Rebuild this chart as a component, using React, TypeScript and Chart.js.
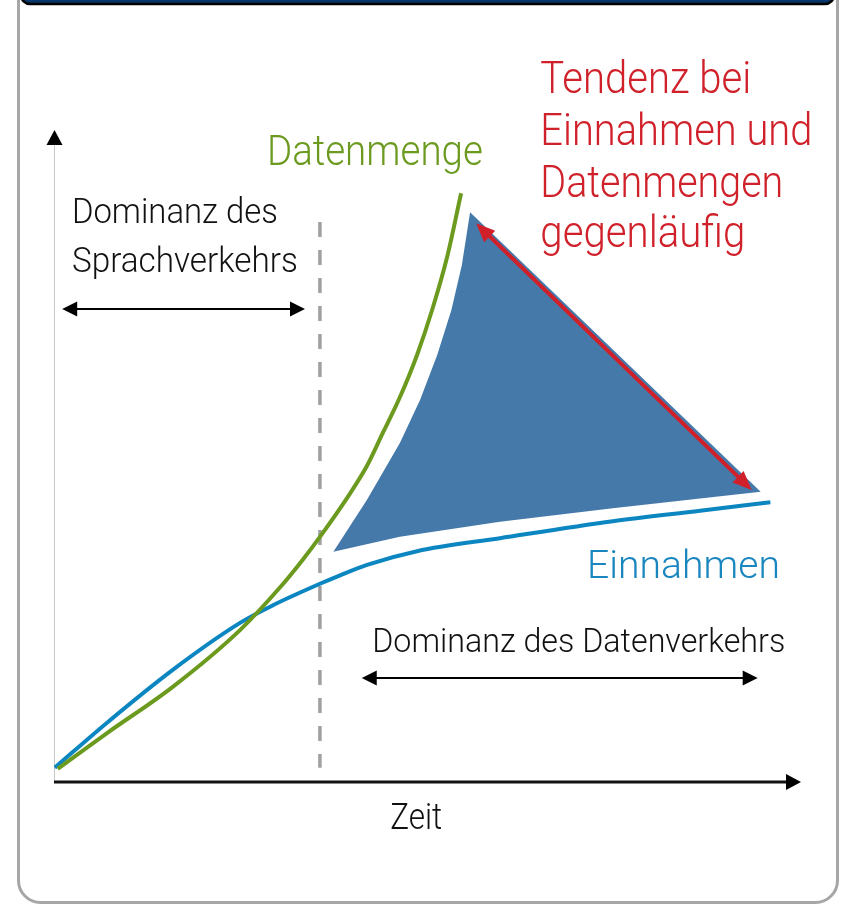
import React, { useEffect, useRef } from "react";
import { Chart, registerables } from "chart.js";

Chart.register(...registerables);

// ---- data (abstract units 0..100 on both axes) ----
const datenmengeX = [0.5, 7.1, 15.9, 24.9, 30.3, 33.3, 35.6, 39.6, 41.9, 44.0, 46.3, 48.6, 50.7, 52.6, 54.5];
const datenmengeY = [2.0, 7.5, 14.6, 23.3, 29.9, 34.1, 37.6, 44.2, 48.5, 53.5, 59.0, 65.5, 72.7, 80.4, 90.3];

const einnahmenX = [0.1, 7.1, 15.9, 24.9, 29.3, 35.6, 38.3, 41.9, 48.6, 59.7, 74.8, 86.5, 95.9];
const einnahmenY = [2.2, 9.1, 17.2, 24.4, 27.1, 30.4, 31.7, 33.3, 35.4, 37.4, 40.0, 41.6, 42.9];

const flaecheX = [37.4, 41.9, 46.3, 49.0, 51.3, 53.2, 54.6, 55.7, 94.6, 74.8, 59.7, 46.3, 37.4];
const flaecheY = [35.3, 43.3, 52.0, 58.6, 65.5, 72.4, 79.3, 87.4, 44.5, 42.0, 39.9, 37.6, 35.3];

const tendenzX = [56.5, 93.4];
const tendenzY = [85.7, 44.8];

const trennlinieX = [35.6, 35.6];
const trennlinieY = [85.9, 2.2];

const sprachPfeilX = [1.1, 33.6];
const sprachPfeilY = 72.55;
const datenPfeilX = [41.2, 94.2];
const datenPfeilY = 15.95;

const GREEN = "#6b9a1f";
const BLUE = "#0b86c1";
const FILL = "#4479aa";
const RED = "#d0202a";
const GRAY = "#a0a0a0";

const labelTexts = [
  "Datenmenge",
  "Tendenz bei",
  "Einnahmen und",
  "Datenmengen",
  "gegenläufig",
  "Dominanz des",
  "Sprachverkehrs",
  "Dominanz des Datenverkehrs",
  "Einnahmen",
  "Zeit",
];
const labelX = [28.5, 65.1, 65.1, 65.1, 65.1, 2.4, 2.4, 42.6, 71.35, 45.0];
const labelY = [94.6, 105.7, 97.7, 89.7, 82.1, 85.7, 78.2, 19.9, 31.3, -7.2];
const labelSize = [42, 43.5, 43.5, 43.5, 43.5, 35, 35, 34, 39.5, 36.5];
const labelWidth = [216, 211, 272, 243, 205, 206, 226, 413, 193, 52];
const labelColor = [GREEN, RED, RED, RED, RED, "#111", "#111", "#111", "#1a86bf", "#111"];

function pts(xs: number[], ys: number[]) {
  return xs.map((x, i) => ({ x, y: ys[i] }));
}

function arrowHead(ctx: CanvasRenderingContext2D, tx: number, ty: number, fx: number, fy: number, len: number, half: number, color: string) {
  const a = Math.atan2(ty - fy, tx - fx);
  ctx.save();
  ctx.fillStyle = color;
  ctx.translate(tx, ty);
  ctx.rotate(a);
  ctx.beginPath();
  ctx.moveTo(0, 0);
  ctx.lineTo(-len, -half);
  ctx.lineTo(-len, half);
  ctx.closePath();
  ctx.fill();
  ctx.restore();
}

function doubleArrow(ctx: CanvasRenderingContext2D, x1: number, y1: number, x2: number, y2: number, lw: number, len: number, half: number, color: string) {
  const d = Math.hypot(x2 - x1, y2 - y1);
  const ux = (x2 - x1) / d, uy = (y2 - y1) / d;
  ctx.save();
  ctx.strokeStyle = color;
  ctx.lineWidth = lw;
  ctx.lineCap = "butt";
  ctx.beginPath();
  ctx.moveTo(x1 + ux * (len - 2), y1 + uy * (len - 2));
  ctx.lineTo(x2 - ux * (len - 2), y2 - uy * (len - 2));
  ctx.stroke();
  ctx.restore();
  arrowHead(ctx, x1, y1, x2, y2, len, half, color);
  arrowHead(ctx, x2, y2, x1, y1, len, half, color);
}

function roundRect(ctx: CanvasRenderingContext2D, x: number, y: number, w: number, h: number, r: number) {
  ctx.beginPath();
  ctx.moveTo(x + r, y);
  ctx.lineTo(x + w - r, y);
  ctx.arcTo(x + w, y, x + w, y + r, r);
  ctx.lineTo(x + w, y + h - r);
  ctx.arcTo(x + w, y + h, x + w - r, y + h, r);
  ctx.lineTo(x + r, y + h);
  ctx.arcTo(x, y + h, x, y + h - r, r);
  ctx.lineTo(x, y + r);
  ctx.arcTo(x, y, x + r, y, r);
  ctx.closePath();
}

const framePlugin = {
  id: "frame",
  beforeDraw(chart: any) {
    const ctx: CanvasRenderingContext2D = chart.ctx;
    const W = chart.width, H = chart.height;
    ctx.save();
    ctx.fillStyle = "#ffffff";
    ctx.fillRect(0, 0, W, H);
    // outer gray frame
    ctx.strokeStyle = "#a6a6a6";
    ctx.lineWidth = 3;
    roundRect(ctx, 18.5, -60, W - 22, H + 60 - 3.5, 22);
    ctx.stroke();
    // navy header
    const g = ctx.createLinearGradient(0, -10, 0, 5);
    g.addColorStop(0, "#0d4a8a");
    g.addColorStop(1, "#06305f");
    ctx.fillStyle = g;
    roundRect(ctx, 21, -40, W - 28, 44, 9);
    ctx.fill();
    ctx.strokeStyle = "#000";
    ctx.lineWidth = 2.5;
    ctx.stroke();
    ctx.restore();
  },
};

const annotPlugin = {
  id: "annot",
  beforeDatasetsDraw(chart: any) {
    const ctx: CanvasRenderingContext2D = chart.ctx;
    const { left, right, top, bottom } = chart.chartArea;
    ctx.save();
    // y axis (thin, light gray) with arrow head
    ctx.strokeStyle = "#c8c8c8";
    ctx.lineWidth = 1;
    ctx.beginPath();
    ctx.moveTo(left + 0.5, top + 12);
    ctx.lineTo(left + 0.5, bottom);
    ctx.stroke();
    arrowHead(ctx, left + 0.5, top, left + 0.5, top + 20, 15, 8, "#000");
    // x axis
    ctx.strokeStyle = "#111";
    ctx.lineWidth = 3;
    ctx.beginPath();
    ctx.moveTo(left, bottom);
    ctx.lineTo(right - 12, bottom);
    ctx.stroke();
    arrowHead(ctx, right, bottom, right - 20, bottom, 15, 8, "#000");
    ctx.restore();
  },
  afterDatasetsDraw(chart: any) {
    const ctx: CanvasRenderingContext2D = chart.ctx;
    const xs = chart.scales.x, ys = chart.scales.y;
    const px = (v: number) => xs.getPixelForValue(v);
    const py = (v: number) => ys.getPixelForValue(v);

    // red double arrow
    doubleArrow(ctx, px(tendenzX[0]), py(tendenzY[0]), px(tendenzX[1]), py(tendenzY[1]), 4, 19, 8, RED);
    // black double arrows
    doubleArrow(ctx, px(sprachPfeilX[0]), py(sprachPfeilY), px(sprachPfeilX[1]), py(sprachPfeilY), 2, 15, 7.5, "#000");
    doubleArrow(ctx, px(datenPfeilX[0]), py(datenPfeilY), px(datenPfeilX[1]), py(datenPfeilY), 2, 15, 7.5, "#000");

    // labels
    labelTexts.forEach((t, i) => {
      ctx.save();
      ctx.font = `300 ${labelSize[i]}px Roboto, "Liberation Sans", sans-serif`;
      ctx.textAlign = "left";
      ctx.textBaseline = "alphabetic";
      const w = ctx.measureText(t).width;
      ctx.translate(px(labelX[i]), py(labelY[i]));
      ctx.scale(labelWidth[i] / w, 1);
      ctx.fillStyle = labelColor[i];
      ctx.fillText(t, 0, 0);
      ctx.restore();
    });
  },
};

export default function App() {
  const ref = useRef<HTMLCanvasElement | null>(null);
  useEffect(() => {
    document.body.style.margin = "0";
    const canvas = ref.current!;
    const chart = new Chart(canvas, {
      type: "line",
      data: {
        datasets: [
          {
            label: "Fläche",
            data: pts(flaecheX, flaecheY),
            borderWidth: 0,
            borderColor: FILL,
            backgroundColor: FILL,
            fill: "shape",
            pointRadius: 0,
            tension: 0,
            order: 5,
          } as any,
          {
            label: "Trennlinie",
            data: pts(trennlinieX, trennlinieY),
            borderColor: GRAY,
            borderWidth: 3.5,
            borderDash: [15, 13],
            fill: false,
            pointRadius: 0,
            order: 4,
          },
          {
            label: "Einnahmen",
            data: pts(einnahmenX, einnahmenY),
            borderColor: BLUE,
            borderWidth: 4,
            fill: false,
            pointRadius: 0,
            cubicInterpolationMode: "monotone",
            order: 3,
          },
          {
            label: "Datenmenge",
            data: pts(datenmengeX, datenmengeY),
            borderColor: GREEN,
            borderWidth: 4,
            fill: false,
            pointRadius: 0,
            cubicInterpolationMode: "monotone",
            order: 2,
          },
        ],
      },
      options: {
        animation: false,
        responsive: false,
        devicePixelRatio: 1,
        layout: { padding: { left: 54, right: 40, top: 130, bottom: 124 } },
        scales: {
          x: { type: "linear", min: 0, max: 100, display: false },
          y: { type: "linear", min: 0, max: 100, display: false },
        },
        plugins: {
          legend: { display: false },
          tooltip: { enabled: false },
          title: { display: false },
        },
        events: [],
      },
      plugins: [framePlugin, annotPlugin],
    });
    return () => chart.destroy();
  }, []);
  return (
    <div style={{ position: "absolute", left: 0, top: 0, width: 841, height: 906 }}>
      <canvas ref={ref} width={841} height={906} style={{ display: "block" }} />
    </div>
  );
}
